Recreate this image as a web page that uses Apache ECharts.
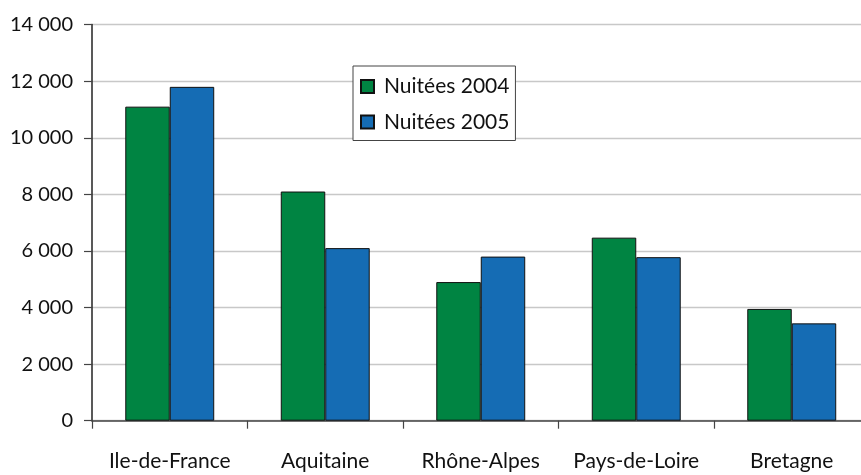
<!DOCTYPE html>
<html>
<head>
<meta charset="utf-8">
<script src="https://cdn.jsdelivr.net/npm/echarts@6/dist/echarts.min.js"></script>
<style>
  html, body { margin: 0; padding: 0; background: #fff; overflow: hidden; }
  /* le graphique est un peu plus large que la fenêtre : la zone de tracé est coupée à droite */
  #chart { width: 870px; height: 475px; }
</style>
</head>
<body>
<div id="chart"></div>
<script>
// Régions et nuitées (en milliers)
const regions = ['Ile-de-France', 'Aquitaine', 'Rhône-Alpes', 'Pays-de-Loire', 'Bretagne'];
const nuitees2004 = [11100, 8100, 4900, 6470, 3950];
const nuitees2005 = [11800, 6100, 5800, 5780, 3440];
const seriesNames = ['Nuitées 2004', 'Nuitées 2005'];

const FONT = 'Lato, "Open Sans", sans-serif';

// Séparateur de milliers à la française : "12 000"
function fmt(v) {
  return String(v).replace(/\B(?=(\d{3})+(?!\d))/g, ' ');
}

const chart = echarts.init(document.getElementById('chart'), null, { renderer: 'canvas' });

chart.setOption({
  animation: false,
  backgroundColor: '#ffffff',
  textStyle: { fontFamily: FONT },
  grid: { left: 92, top: 24.6, right: 0.5, bottom: 54.3, containLabel: false },
  legend: {
    data: seriesNames,
    orient: 'vertical',
    left: 353,
    top: 66,
    backgroundColor: '#ffffff',
    borderColor: '#444',
    borderWidth: 1,
    borderRadius: 0,
    padding: [10, 6, 8, 7],
    itemGap: 14.5,
    itemWidth: 13,
    itemHeight: 13,
    icon: 'rect',
    textStyle: { fontFamily: FONT, fontSize: 21, color: '#111', padding: [0, 0, 0, 5] }
  },
  xAxis: {
    type: 'category',
    data: regions,
    axisLine: { lineStyle: { color: '#444', width: 1.5 } },
    axisTick: { show: true, length: 8, alignWithLabel: false, lineStyle: { color: '#444', width: 1.2 } },
    axisLabel: { interval: 0, margin: 30, fontFamily: FONT, fontSize: 21, color: '#111' }
  },
  yAxis: {
    type: 'value',
    min: 0,
    max: 14000,
    interval: 2000,
    axisLine: { show: true, lineStyle: { color: '#222', width: 1.5 } },
    axisTick: { show: true, length: 8, lineStyle: { color: '#444', width: 1.2 } },
    axisLabel: { margin: 19, fontFamily: FONT, fontSize: 20, color: '#111', formatter: fmt },
    splitLine: { show: true, lineStyle: { color: '#c8c8c8', width: 1.3 } }
  },
  series: [
    {
      name: seriesNames[0],
      type: 'bar',
      data: nuitees2004,
      barGap: '0%',
      barCategoryGap: '42.8%',
      itemStyle: { color: '#008442', borderColor: '#111', borderWidth: 1 }
    },
    {
      name: seriesNames[1],
      type: 'bar',
      data: nuitees2005,
      itemStyle: { color: '#156cb4', borderColor: '#111', borderWidth: 1 }
    }
  ]
});
</script>
</body>
</html>
